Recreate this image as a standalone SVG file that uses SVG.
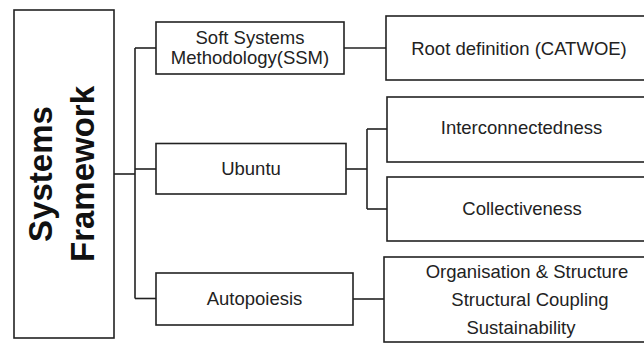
<svg xmlns="http://www.w3.org/2000/svg" width="644" height="343" viewBox="0 0 644 343">
  <style>
    .box { fill: #ffffff; stroke: #222222; stroke-width: 1.6; }
    .lbl { font-family: "Liberation Sans", Arial, sans-serif; font-size: 18.5px; fill: #222222; text-anchor: middle; }
    .title { font-family: "Liberation Sans", Arial, sans-serif; font-size: 33px; font-weight: bold; fill: #111111; text-anchor: middle; }
    .wire { fill: none; stroke: #222222; stroke-width: 1.6; }
  </style>
  <rect width="644" height="343" fill="#ffffff"/>

  <!-- connectors -->
  <g id="connectors">
    <path class="wire" d="M114 174 H135"/>
    <path class="wire" d="M135 48 V298.5"/>
    <path class="wire" d="M135 48 H156"/>
    <path class="wire" d="M135 169 H156"/>
    <path class="wire" d="M135 298.5 H156"/>
    <path class="wire" d="M344 48 H386"/>
    <path class="wire" d="M346 169 H367"/>
    <path class="wire" d="M367 129 V209"/>
    <path class="wire" d="M367 129 H387"/>
    <path class="wire" d="M367 209 H387"/>
    <path class="wire" d="M353 299 H384"/>
  </g>

  <!-- root node -->
  <g id="systems-framework">
    <rect class="box" x="14" y="10" width="100" height="328"/>
    <text class="title" transform="translate(51.5 174) rotate(-90)">Systems</text>
    <text class="title" transform="translate(94 174) rotate(-90)">Framework</text>
  </g>

  <!-- first level -->
  <g id="ssm">
    <rect class="box" x="156" y="22" width="188" height="52"/>
    <text class="lbl" x="250" y="44">Soft Systems</text>
    <text class="lbl" x="250" y="63.5">Methodology(SSM)</text>
  </g>
  <g id="ubuntu">
    <rect class="box" x="156" y="143.5" width="190" height="50.5"/>
    <text class="lbl" x="251" y="175">Ubuntu</text>
  </g>
  <g id="autopoiesis">
    <rect class="box" x="156" y="273" width="197" height="52"/>
    <text class="lbl" x="254.5" y="305">Autopoiesis</text>
  </g>

  <!-- second level -->
  <g id="root-definition">
    <rect class="box" x="386" y="16" width="270" height="64"/>
    <text class="lbl" x="519" y="55">Root definition (CATWOE)</text>
  </g>
  <g id="interconnectedness">
    <rect class="box" x="387" y="97" width="270" height="65"/>
    <text class="lbl" x="521.5" y="134">Interconnectedness</text>
  </g>
  <g id="collectiveness">
    <rect class="box" x="387" y="177" width="270" height="64"/>
    <text class="lbl" x="522" y="215">Collectiveness</text>
  </g>
  <g id="autopoiesis-aspects">
    <rect class="box" x="384" y="257" width="272" height="85"/>
    <text class="lbl" x="527" y="277.5">Organisation &amp; Structure</text>
    <text class="lbl" x="530" y="306">Structural Coupling</text>
    <text class="lbl" x="521" y="333.5">Sustainability</text>
  </g>
</svg>
